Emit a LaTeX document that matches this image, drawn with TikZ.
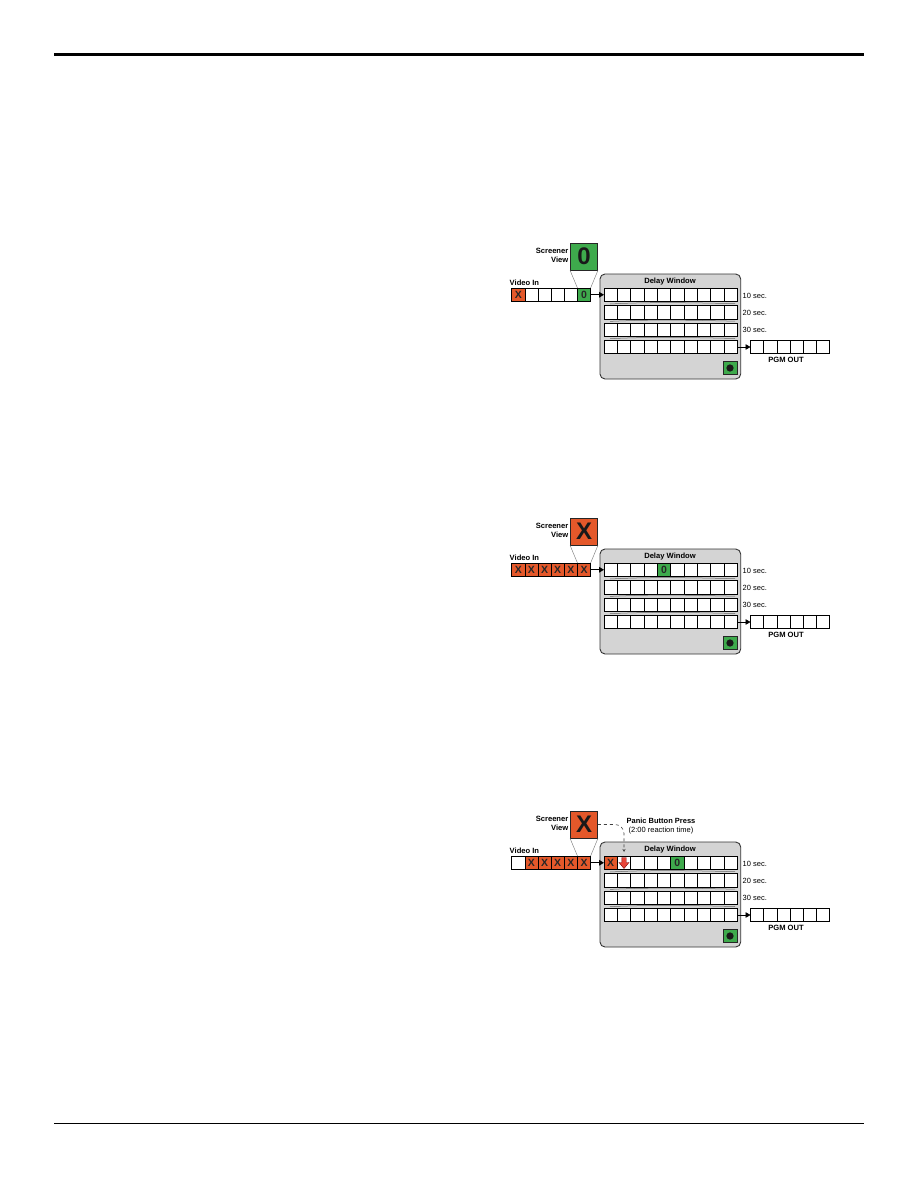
\documentclass[tikz,border=0pt]{standalone}
\usepackage{fontspec}
\setmainfont{Liberation Sans}
\usetikzlibrary{arrows.meta}
\definecolor{xorange}{RGB}{228,88,42}
\definecolor{xgreen}{RGB}{62,170,76}
\definecolor{wingray}{RGB}{212,212,212}
\definecolor{xred}{RGB}{232,70,58}
\tikzset{
  lbl/.style={font=\bfseries\fontsize{7.6}{9.5}\selectfont, inner sep=0pt},
  reglbl/.style={font=\fontsize{7.5}{9.5}\selectfont, inner sep=0pt},
  rcell/.style={draw=black, line width=0.6pt, fill=white, minimum width=13.33pt, minimum height=13.5pt, inner sep=0pt, outer sep=0pt},
  scell/.style={draw=black, line width=0.6pt, fill=white, minimum width=13.15pt, minimum height=13.5pt, inner sep=0pt, outer sep=0pt},
  ocell/.style={scell, fill=xorange, font=\bfseries\fontsize{10.5}{10.5}\selectfont, text=black!85},
  gcell/.style={scell, fill=xgreen, font=\bfseries\fontsize{10.5}{10.5}\selectfont, text=black!85},
  win/.style={draw=black!80, line width=0.9pt, fill=wingray, rounded corners=5pt, minimum width=140.7pt, minimum height=105pt, inner sep=0pt},
  scr/.style={draw=black!85, line width=0.8pt, minimum size=27pt, inner sep=0pt, font=\bfseries\fontsize{24}{24}\selectfont, text=black!90},
  btn/.style={draw=black!85, line width=0.7pt, fill=xgreen, minimum width=14pt, minimum height=13.5pt, inner sep=0pt},
  blackdot/.style={circle, fill=black!90, minimum size=7.3pt, inner sep=0pt},
  funnel/.style={draw=black!55, line width=0.4pt},
  thickarrow/.style={draw=black, line width=1.3pt, -{Triangle[length=5pt,width=5.5pt]}},
  thinarrow/.style={draw=black, line width=0.7pt, -{Triangle[length=5pt,width=5.5pt]}},
  swoosh/.style={draw=black!60, line width=0.5pt},
  panicline/.style={draw=black!75, line width=0.6pt, dashed, rounded corners=9pt, -{Stealth[length=3pt,width=3pt]}}
}
\newcommand{\dlwin}[3]{%
  % #1 prefix, #2 screener fill, #3 screener letter
  \node[win] (#1win) at (670.35,326.5) {};
  \node[lbl] (#1title) at (670,281.5) {Delay Window};
  \foreach \r/\yy in {1/294.75,2/312.25,3/329.75,4/347} {
    \foreach \c in {1,...,10} {
      \node[rcell] (#1r\r c\c) at ({604+13.33*(\c-0.5)},\yy) {};
    }
  }
  \draw[swoosh] (610,304) .. controls (650,301.9) and (690,302.6) .. (735,303.7);
  \draw[swoosh] (610,321.4) .. controls (650,319.4) and (690,320.1) .. (735,321.2);
  \draw[swoosh] (610,338.7) .. controls (650,336.7) and (690,337.4) .. (735,338.5);
  \node[reglbl, anchor=west] (#1l1) at (742.5,295.5) {10 sec.};
  \node[reglbl, anchor=west] (#1l2) at (742.5,312.5) {20 sec.};
  \node[reglbl, anchor=west] (#1l3) at (742.5,329.5) {30 sec.};
  \foreach \c in {1,...,6} {
    \node[scell] (#1p\c) at ({750.5+13.15*(\c-0.5)},347) {};
  }
  \node[lbl] (#1pgm) at (786,359.5) {PGM OUT};
  \draw[thinarrow] (#1r4c10.east) -- (#1p1.west);
  \node[btn] (#1btn) at (730,368) {};
  \node[blackdot] (#1dot) at (#1btn.center) {};
  \foreach \c in {1,...,6} {
    \node[scell] (#1v\c) at ({511.7+13.15*(\c-0.5)},294.75) {};
  }
  \node[lbl, anchor=west] (#1vin) at (509.5,283) {Video In};
  \draw[thickarrow] (#1v6.east) -- (#1r1c1.west);
  \node[scr, fill=#2] (#1scr) at (584,256.5) {#3};
  \node[lbl, align=right, anchor=east] (#1st) at (568.5,255.5) {Screener\\View};
  \draw[funnel] (#1scr.south west) -- (#1v6.north west);
  \draw[funnel] (#1scr.south east) -- (#1v6.north east);
}
\begin{document}
\begin{tikzpicture}[x=1pt, y=-1pt]
  \useasboundingbox (0,0) rectangle (918,1188);
  \fill[white] (0,0) rectangle (918,1188);
  \coordinate (tl) at (54,55);
  \coordinate (tr) at (864,55);
  \draw[line width=3pt] (tl) -- (tr);
  \coordinate (bl) at (54,1123.5);
  \coordinate (br) at (864,1123.5);
  \draw[line width=1pt] (bl) -- (br);

  % Diagram 1
  \begin{scope}
    \dlwin{A}{xgreen}{0}
    \node[ocell] (Av1x) at (Av1) {X};
    \node[gcell] (Av6g) at (Av6) {0};
  \end{scope}

  % Diagram 2
  \begin{scope}[shift={(0,275)}]
    \dlwin{B}{xorange}{X}
    \foreach \c in {1,...,6} { \node[ocell] (Bv\c x) at (Bv\c) {X}; }
    \node[gcell, minimum width=13.33pt] (Br1g) at (Br1c5) {0};
  \end{scope}

  % Diagram 3
  \begin{scope}[shift={(0,568)}]
    \dlwin{C}{xorange}{X}
    \foreach \c in {2,...,6} { \node[ocell] (Cv\c x) at (Cv\c) {X}; }
    \node[ocell, minimum width=13.33pt] (Cr1x) at (Cr1c1) {X};
    \node[gcell, minimum width=13.33pt] (Cr1g) at (Cr1c6) {0};
    \draw[fill=xred, draw=red!50!black, line width=0.4pt]
      (621.8,289.5) -- (626.2,289.5) -- (626.2,294.5) -- (629,294.5) -- (624,300.5) -- (619,294.5) -- (621.8,294.5) -- cycle;
    \coordinate (Cdn) at (624,284);
    \draw[panicline] (Cscr.east) -| (Cdn);
    \node[reglbl, align=center] (Cpanic) at (661,258) {\textbf{Panic Button Press}\\(2:00 reaction time)};
  \end{scope}
\end{tikzpicture}
\end{document}
